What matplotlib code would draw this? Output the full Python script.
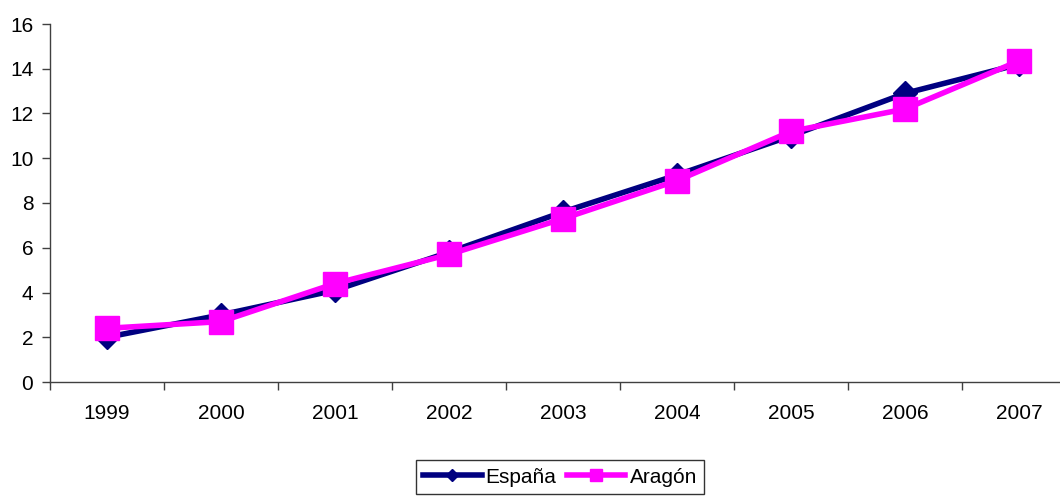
import numpy as np
import matplotlib.pyplot as plt
from matplotlib.ticker import FixedLocator, NullFormatter

plt.rcParams['font.family'] = ['Liberation Sans', 'DejaVu Sans']

years = ["1999", "2000", "2001", "2002", "2003", "2004", "2005", "2006", "2007"]
espana = [2.0, 3.0, 4.1, 5.8, 7.6, 9.25, 11.0, 12.9, 14.2]
aragon = [2.4, 2.7, 4.4, 5.7, 7.3, 9.0, 11.2, 12.2, 14.35]

fig = plt.figure(figsize=(10.6, 4.98), dpi=100)
ax = fig.add_axes([50/1060, 116/498, 1026/1060, 358/498])

x = np.arange(len(years))
ax.plot(x, espana, color="#000080", lw=4, marker="D", ms=12, mec="#000080",
        mfc="#000080", label="España", clip_on=False)
ax.plot(x, aragon, color="#FF00FF", lw=4, marker="s", ms=17, mec="#FF00FF",
        mfc="#FF00FF", label="Aragón", clip_on=False)

ax.set_xlim(-0.5, 8.5)
ax.set_ylim(0, 16)
ax.set_yticks(range(0, 17, 2))
ax.set_xticks(x)
ax.set_xticklabels(years)
ax.xaxis.set_minor_locator(FixedLocator(np.arange(-0.5, 9, 1)))
ax.xaxis.set_minor_formatter(NullFormatter())
ax.tick_params(axis="x", which="major", length=0, pad=16, labelsize=15)
ax.tick_params(axis="x", which="minor", length=6, width=1, color="#404040")
ax.tick_params(axis="y", length=6, width=1, color="#404040", labelsize=15, pad=6)
for s in ["top", "right"]:
    ax.spines[s].set_visible(False)
for s in ["left", "bottom"]:
    ax.spines[s].set_color("#404040")
    ax.spines[s].set_linewidth(1)

leg = ax.legend(loc="center", bbox_to_anchor=(560/1060, 1 - 477/498), bbox_transform=fig.transFigure,
                ncol=2, frameon=True, fancybox=False, fontsize=15, handlelength=2.8,
                handletextpad=0.2, columnspacing=0.5, borderpad=0.35, markerscale=0.5)
leg.get_frame().set_edgecolor("black")
leg.get_frame().set_linewidth(1)

fig.savefig("out.png", dpi=100)
